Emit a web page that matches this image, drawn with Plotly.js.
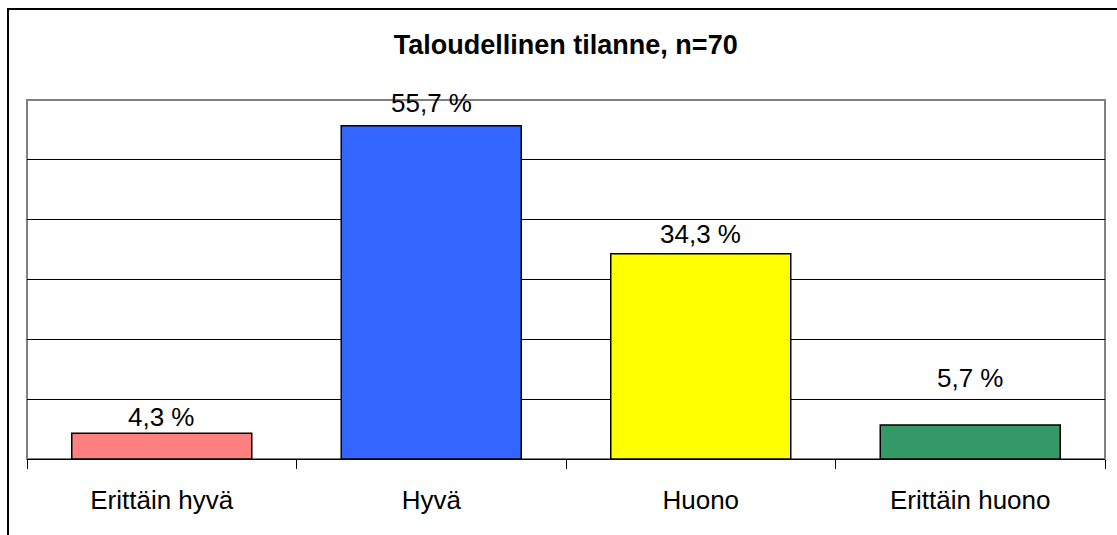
<!DOCTYPE html>
<html>
<head>
<meta charset="utf-8">
<script src="https://cdn.plot.ly/plotly-3.0.1.min.js"></script>
<style>
html,body{margin:0;padding:0;background:#fff;}
#chart{width:1117px;height:535px;}
</style>
</head>
<body>
<div id="chart"></div>
<script>
const categories = ["Erittäin hyvä", "Hyvä", "Huono", "Erittäin huono"];
const values = [4.3, 55.7, 34.3, 5.7];
const labels = ["4,3 %", "55,7 %", "34,3 %", "5,7 %"];
const colors = ["#FF8080", "#3366FF", "#FFFF00", "#339966"];
const labelShift = [16, 23, 20, 47];

const trace = {
  type: "bar",
  x: categories,
  y: values,
  width: 0.668,
  marker: {color: colors, line: {color: "#000000", width: 1.5}},
  hoverinfo: "none"
};

const annotations = categories.map((c, i) => ({
  x: c, y: values[i], xref: "x", yref: "y",
  text: labels[i], showarrow: false, yanchor: "middle",
  yshift: labelShift[i],
  font: {family: "Liberation Sans, Arial, sans-serif", size: 26, color: "#000"}
}));

const layout = {
  width: 1117, height: 535,
  margin: {l: 27, r: 12, t: 100, b: 76},
  paper_bgcolor: "#ffffff", plot_bgcolor: "#ffffff",
  showlegend: false,
  title: {
    text: "<b>Taloudellinen tilanne, n=70</b>",
    x: 0.5065, xanchor: "center", y: 0.916, yanchor: "middle",
    font: {family: "Liberation Sans, Arial, sans-serif", size: 27, color: "#000"}
  },
  xaxis: {
    type: "category",
    showline: true, linecolor: "#000", linewidth: 1,
    ticks: "outside", tickson: "boundaries", ticklen: 9, tickcolor: "#000", tickwidth: 1,
    ticklabelstandoff: 18,
    tickfont: {family: "Liberation Sans, Arial, sans-serif", size: 26, color: "#000"},
    showgrid: false, zeroline: false, fixedrange: true
  },
  yaxis: {
    range: [0, 60],
    tickmode: "array", tickvals: [10, 20, 30, 40, 50],
    showticklabels: false, ticks: "",
    showgrid: true, gridcolor: "#000", gridwidth: 1,
    zeroline: false, showline: false, fixedrange: true
  },
  annotations: annotations,
  shapes: [
    {type: "rect", xref: "paper", yref: "paper", x0: 0, x1: 1, y0: 0, y1: 1,
     line: {color: "#808080", width: 2}, layer: "below"},
    {type: "rect", xref: "paper", yref: "paper", x0: -0.0176, x1: 1.2, y0: -0.6, y1: 1.2535,
     line: {color: "#000", width: 2}, layer: "below"}
  ]
};

Plotly.newPlot("chart", [trace], layout, {displayModeBar: false, staticPlot: true});
</script>
</body>
</html>
